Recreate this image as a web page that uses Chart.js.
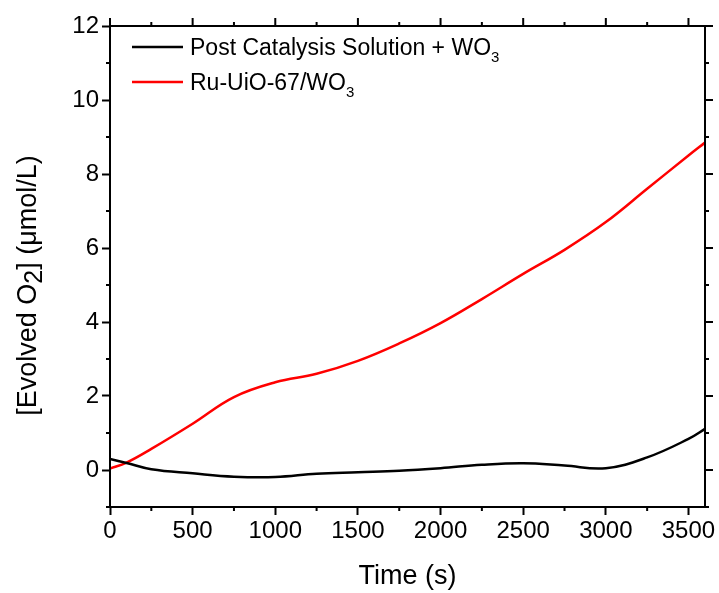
<!DOCTYPE html>
<html>
<head>
<meta charset="utf-8">
<script src="https://cdn.jsdelivr.net/npm/chart.js@4/dist/chart.umd.min.js"></script>
<style>
  html, body { margin: 0; padding: 0; background: #fff; }
  #wrap { width: 719px; height: 593px; }
</style>
</head>
<body>
<div id="wrap"><canvas id="o2Chart" width="719" height="593"></canvas></div>
<script>
// time points (s)
const times = [0, 100, 250, 500, 750, 1000, 1250, 1500, 1750, 2000, 2250, 2500, 2750, 3000, 3250, 3500, 3600];
// [Evolved O2] (umol/L)
const postCatalysis = [0.30, 0.19, 0.02, -0.09, -0.18, -0.19, -0.10, -0.06, -0.02, 0.05, 0.14, 0.18, 0.12, 0.05, 0.34, 0.84, 1.11];
const ruUiO = [0.04, 0.20, 0.57, 1.25, 1.97, 2.37, 2.60, 2.95, 3.42, 3.97, 4.62, 5.30, 5.95, 6.70, 7.60, 8.50, 8.85];
const seriesNames = ['Post Catalysis Solution + WO', 'Ru-UiO-67/WO'];
const seriesColors = ['#000000', '#ff0000'];
const xTicks = [0, 500, 1000, 1500, 2000, 2500, 3000, 3500];
const yTicks = [0, 2, 4, 6, 8, 10, 12];

const FONT = '"Liberation Sans", Arial, sans-serif';

// frame, minor ticks, top/right ticks, legend and y title
const decor = {
  id: 'decor',
  afterDraw(chart) {
    const ctx = chart.ctx;
    const a = chart.chartArea;
    const xs = chart.scales.x, ys = chart.scales.y;
    ctx.save();
    ctx.strokeStyle = '#000';
    ctx.lineWidth = 2;
    ctx.beginPath();
    ctx.rect(a.left, a.top, a.right - a.left, a.bottom - a.top);
    ctx.stroke();

    ctx.beginPath();
    for (let t = 0; t <= 3600; t += 250) {
      const px = xs.getPixelForValue(t);
      const len = t % 500 === 0 ? 8 : 4;
      ctx.moveTo(px, a.top); ctx.lineTo(px, a.top - len);
      if (t % 500 !== 0) { ctx.moveTo(px, a.bottom); ctx.lineTo(px, a.bottom + len); }
    }
    for (let v = -1; v <= 12; v += 1) {
      const py = ys.getPixelForValue(v);
      const len = v % 2 === 0 ? 8 : 4;
      ctx.moveTo(a.right, py); ctx.lineTo(a.right + len, py);
      if (v % 2 !== 0) { ctx.moveTo(a.left, py); ctx.lineTo(a.left - len, py); }
    }
    ctx.stroke();

    // legend
    ctx.fillStyle = '#000';
    ctx.textBaseline = 'alphabetic';
    ctx.textAlign = 'left';
    const lx = a.left + 22, ly = a.top + 21;
    seriesNames.forEach((name, i) => {
      const y = ly + i * 35;
      ctx.strokeStyle = seriesColors[i];
      ctx.lineWidth = 2.5;
      ctx.beginPath();
      ctx.moveTo(lx, y); ctx.lineTo(lx + 51, y);
      ctx.stroke();
      ctx.font = '23px ' + FONT;
      ctx.fillText(name, lx + 58, y + 8);
      const w = ctx.measureText(name).width;
      ctx.font = '15px ' + FONT;
      ctx.fillText('3', lx + 58 + w, y + 15);
    });

    // y axis title with subscript
    ctx.save();
    ctx.translate(36, (a.top + a.bottom) / 2 + 19);
    ctx.rotate(-Math.PI / 2);
    const p1 = '[Evolved O', p2 = '2', p3 = '] (\u03bcmol/L)';
    ctx.font = '27px ' + FONT;
    const w1 = ctx.measureText(p1).width, w3 = ctx.measureText(p3).width;
    ctx.font = '25px ' + FONT;
    const w2 = ctx.measureText(p2).width;
    let x0 = -(w1 + w2 + w3) / 2;
    ctx.font = '27px ' + FONT;
    ctx.fillText(p1, x0, 0);
    ctx.font = '25px ' + FONT;
    ctx.fillText(p2, x0 + w1, 6);
    ctx.font = '27px ' + FONT;
    ctx.fillText(p3, x0 + w1 + w2, 0);
    ctx.restore();

    ctx.restore();
  }
};

const makeData = vals => times.map((t, i) => ({ x: t, y: vals[i] }));

new Chart(document.getElementById('o2Chart').getContext('2d'), {
  type: 'line',
  data: {
    datasets: [
      { label: seriesNames[0], data: makeData(postCatalysis), borderColor: seriesColors[0], borderWidth: 2.5, pointRadius: 0, tension: 0.4 },
      { label: seriesNames[1], data: makeData(ruUiO), borderColor: seriesColors[1], borderWidth: 2.5, pointRadius: 0, tension: 0.4 }
    ]
  },
  options: {
    responsive: false,
    animation: false,
    layout: { padding: { top: 26, right: 14, left: 0, bottom: 0 } },
    plugins: { legend: { display: false }, tooltip: { enabled: false } },
    scales: {
      x: {
        type: 'linear', min: 0, max: 3600,
        afterBuildTicks: s => { s.ticks = xTicks.map(v => ({ value: v })); },
        afterFit: s => { s.height = 86; },
        grid: { drawOnChartArea: false, tickLength: 8, tickWidth: 2, tickColor: '#000' },
        border: { color: '#000', width: 2 },
        ticks: { color: '#000', font: { family: FONT, size: 24 }, padding: 2, maxRotation: 0, callback: v => String(v) },
        title: { display: true, text: 'Time (s)', color: '#000', font: { family: FONT, size: 27 }, padding: { top: 4, bottom: 0 } }
      },
      y: {
        min: -1, max: 12,
        afterBuildTicks: s => { s.ticks = yTicks.map(v => ({ value: v })); },
        afterFit: s => { s.width = 110; },
        grid: { drawOnChartArea: false, tickLength: 8, tickWidth: 2, tickColor: '#000' },
        border: { color: '#000', width: 2 },
        ticks: { color: '#000', font: { family: FONT, size: 24 }, padding: 3, callback: v => String(v) }
      }
    }
  },
  plugins: [decor]
});
</script>
</body>
</html>
